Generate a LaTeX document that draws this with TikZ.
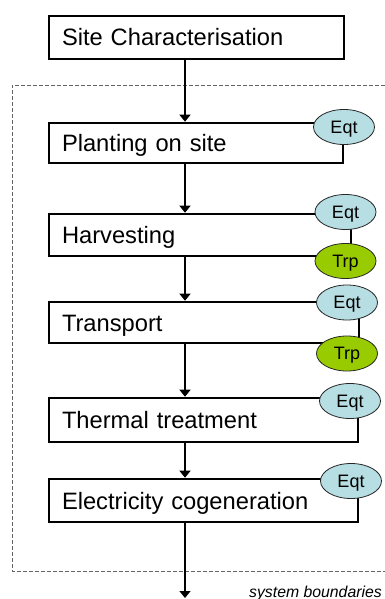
\documentclass[tikz,border=0pt]{standalone}
\usepackage{fontspec}
\setmainfont{Liberation Sans}
\usetikzlibrary{shapes.geometric,arrows.meta}
\definecolor{eqtblue}{RGB}{183,222,226}
\definecolor{trpgreen}{RGB}{153,204,0}
\definecolor{bordergray}{RGB}{100,100,100}
\tikzset{
  stepbox/.style={draw=black, line width=2.6pt, rectangle, inner xsep=13pt, inner ysep=0pt,
    text height=17pt, text depth=0pt, align=left, fill=white,
    font=\fontsize{23.7pt}{28pt}\selectfont},
  tag/.style={ellipse, draw=black!85, line width=0.8pt, minimum width=61pt, minimum height=35pt,
    inner sep=0pt, text height=12.9pt, text depth=0pt, font=\fontsize{18pt}{20pt}\selectfont},
  eqt/.style={tag, fill=eqtblue},
  trp/.style={tag, fill=trpgreen},
  flow/.style={line width=1.5pt, -{Triangle[width=11pt,length=7pt]}},
  link/.style={line width=1.5pt},
  boundary/.style={draw=bordergray, line width=0.8pt, dash pattern=on 4pt off 2pt}
}
\begin{document}
\begin{tikzpicture}[x=1pt,y=-1pt]
\useasboundingbox (0,0) rectangle (385,599);
% system boundary
\draw[boundary] (385,85) -- (12,85) -- (12,571) -- (385,571);
% process boxes
\node[stepbox, text width=269pt, minimum height=43pt] (site) at (196.5,37.5) {Site Characterisation};
\node[stepbox, text width=268pt, minimum height=40pt] (plant) at (196,143) {Planting on site};
\node[stepbox, text width=276pt, minimum height=42pt] (harv) at (200,235) {Harvesting};
\node[stepbox, text width=284pt, minimum height=41pt] (trans) at (204,322.5) {Transport};
\node[stepbox, text width=283pt, minimum height=44pt] (therm) at (203.5,420) {Thermal treatment};
\node[stepbox, text width=283pt, minimum height=43pt] (elec) at (203.5,500.5) {Electricity cogeneration};
% tags
\node[eqt] (e1) at (344,127) {Eqt};
\node[eqt] (e2) at (345.5,212) {Eqt};
\node[trp] (t2) at (345.5,261) {Trp};
\node[eqt] (e3) at (347,302.5) {Eqt};
\node[trp] (t3) at (347,353.5) {Trp};
\node[eqt] (e4) at (350,401) {Eqt};
\node[eqt] (e5) at (351,481) {Eqt};
% flow arrows
\coordinate (ax) at (185,0);
\coordinate (out) at (185,598);
\draw[flow] (site.south -| ax) -- (plant.north -| ax);
\draw[flow] (plant.south -| ax) -- (harv.north -| ax);
\draw[flow] (harv.south -| ax) -- (trans.north -| ax);
\draw[flow] (trans.south -| ax) -- (therm.north -| ax);
\draw[flow] (therm.south -| ax) -- (elec.north -| ax);
\draw[flow] (elec.south -| ax) -- (out);
% label
\node[anchor=base east, inner sep=0pt, font=\itshape\fontsize{15.8pt}{18pt}\selectfont] (sb) at (382,597) {system boundaries};
\end{tikzpicture}
\end{document}
